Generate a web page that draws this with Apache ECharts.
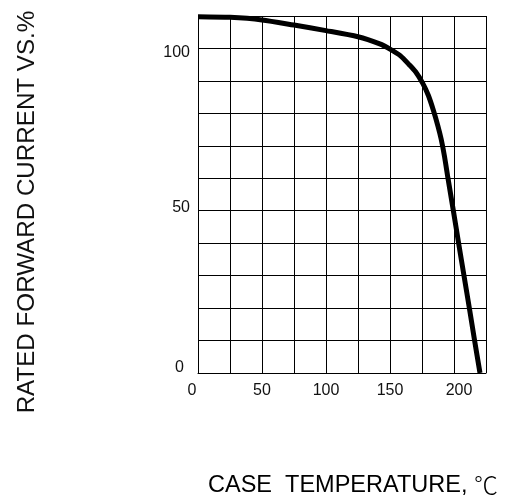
<!DOCTYPE html>
<html>
<head>
<meta charset="utf-8">
<script src="https://cdn.jsdelivr.net/npm/echarts@6/dist/echarts.min.js"></script>
<style>html,body{margin:0;padding:0;background:#fff;}#c{width:506px;height:503px;}</style>
</head>
<body>
<div id="c"></div>
<script>
// Case temperature (°C)
var temperature = [0, 25, 50, 75, 100, 125, 142, 150, 158, 165, 170, 175.5, 180, 184, 187.5, 190, 192.5, 195.3, 199.5, 203.6, 207.8, 212, 216.1, 220.3];
// Rated forward current (%)
var currentPct = [109.8, 109.6, 108.8, 107.2, 105.5, 103.6, 101.4, 99.8, 97.8, 95, 92.8, 89.3, 85.5, 80.8, 76, 72, 66.9, 60, 50, 40, 30, 20, 10, 0];
var xTickLabels = ['0', '50', '100', '150', '200'];
var yTickLabels = ['0', '50', '100'];
var yTitle = 'RATED FORWARD CURRENT VS.%';
var xTitleText = 'CASE  TEMPERATURE, ';
var xTitleUnit = '\u2103';

var chart = echarts.init(document.getElementById('c'), null, {renderer: 'canvas'});
var font = '"Liberation Sans", Arial, sans-serif';
var data = temperature.map(function (t, i) { return [t, currentPct[i]]; });

chart.setOption({
  animation: false,
  backgroundColor: '#fff',
  grid: {left: 198, right: 20, top: 16, bottom: 130},
  xAxis: {
    type: 'value', min: 0, max: 225, interval: 25,
    axisLine: {show: true, lineStyle: {color: '#000', width: 1}},
    axisTick: {show: false},
    splitLine: {show: true, lineStyle: {color: '#000', width: 1}},
    axisLabel: {
      margin: 10, color: '#111', fontSize: 16, fontFamily: font,
      formatter: function (v) {
        var s = String(v);
        if (xTickLabels.indexOf(s) < 0) return '';
        if (s === '0') return '{l|' + s + '}';
        if (s === '200') return '{r|' + s + '}';
        return s;
      },
      rich: {
        l: {fontSize: 16, fontFamily: font, color: '#111', padding: [0, 12, 0, 0]},
        r: {fontSize: 16, fontFamily: font, color: '#111', padding: [0, 0, 0, 10]}
      }
    }
  },
  yAxis: {
    type: 'value', min: 0, max: 110, interval: 10,
    axisLine: {show: true, lineStyle: {color: '#000', width: 1}},
    axisTick: {show: false},
    splitLine: {show: true, lineStyle: {color: '#000', width: 1}},
    axisLabel: {
      margin: 8, color: '#111', fontSize: 16, fontFamily: font,
      formatter: function (v) {
        var s = String(v);
        if (yTickLabels.indexOf(s) < 0) return '';
        if (s === '0') return '{z|' + s + '}';
        if (s === '50') return '{f|' + s + '}';
        return '{h|' + s + '}';
      },
      rich: {
        z: {fontSize: 16, fontFamily: font, color: '#111', padding: [0, 6, 10, 0]},
        f: {fontSize: 16, fontFamily: font, color: '#111', padding: [0, 0, 7, 0]},
        h: {fontSize: 16, fontFamily: font, color: '#111', padding: [9, 0, 0, 0]}
      }
    }
  },
  series: [{
    type: 'line',
    data: data,
    smooth: 0.25,
    showSymbol: false,
    lineStyle: {color: '#000', width: 5},
    z: 5
  }],
  graphic: [
    {
      type: 'text', x: 27, y: 212, rotation: Math.PI / 2,
      style: {text: yTitle, font: '24.2px ' + font, fill: '#111', textAlign: 'center', textVerticalAlign: 'middle'}
    },
    {
      type: 'text', x: 208, y: 486,
      style: {
        text: '{a|' + xTitleText + '}{u|' + xTitleUnit + '}',
        textAlign: 'left', textVerticalAlign: 'middle',
        rich: {
          a: {fontSize: 23.5, fontFamily: font, color: '#111', verticalAlign: 'middle'},
          u: {fontSize: 24, fontFamily: '"Noto Sans CJK SC", sans-serif', fontWeight: 300, color: '#222', verticalAlign: 'middle', padding: [0, 0, 3, 0]}
        }
      }
    }
  ]
});
</script>
</body>
</html>
